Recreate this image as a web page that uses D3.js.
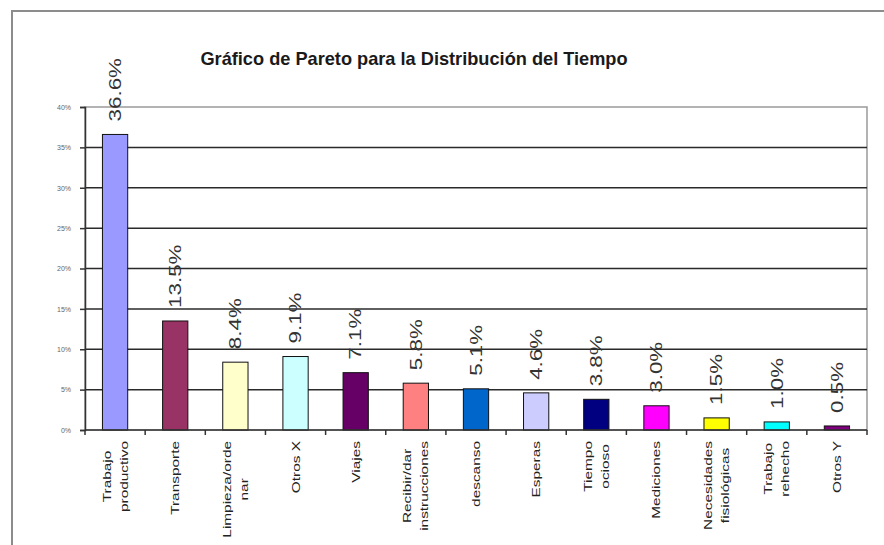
<!DOCTYPE html>
<html>
<head>
<meta charset="utf-8">
<script src="https://cdn.jsdelivr.net/npm/d3@7"></script>
<style>
  html, body { margin: 0; padding: 0; background: #fff; }
  svg { display: block; font-family: "Liberation Sans", Arial, sans-serif; }
</style>
</head>
<body>
<svg id="chart" width="884" height="545"></svg>
<script>
// Time distribution categories (line breaks as shown under the axis)
const categories = [
  "Trabajo\nproductivo", "Transporte", "Limpieza/orde\nnar", "Otros X", "Viajes",
  "Recibir/dar\ninstrucciones", "descanso", "Esperas", "Tiempo\nocioso",
  "Mediciones", "Necesidades\nfisiológicas", "Trabajo\nrehecho", "Otros Y"
];
// Share of time per category, in percent
const values = [36.6, 13.5, 8.4, 9.1, 7.1, 5.8, 5.1, 4.6, 3.8, 3.0, 1.5, 1.0, 0.5];
// Bar fills, one per category
const colors = [
  "#9999FF", "#993366", "#FFFFCC", "#CCFFFF", "#660066", "#FF8080", "#0066CC",
  "#CCCCFF", "#000080", "#FF00FF", "#FFFF00", "#00FFFF", "#800080"
];
// Y axis ticks (percent)
const yTicks = [0, 5, 10, 15, 20, 25, 30, 35, 40];
const title = "Gráfico de Pareto para la Distribución del Tiempo";

const svg = d3.select("#chart");
const plot = { left: 85, right: 867, top: 107, bottom: 430 };
const stretch = 1.4; // elongation of rotated labels along their reading direction

// Outer chart frame
svg.append("path")
  .attr("d", "M12,545 L12,11 L884,11")
  .attr("fill", "none")
  .attr("stroke", "#8c8c8c")
  .attr("stroke-width", 2);

// Title
svg.append("text")
  .attr("x", 414).attr("y", 65)
  .attr("text-anchor", "middle")
  .attr("font-size", 18.2)
  .attr("font-weight", "bold")
  .attr("fill", "#1a1a1a")
  .text(title);

const x = d3.scaleBand()
  .domain(d3.range(categories.length))
  .range([plot.left, plot.right])
  .paddingInner(0.58)
  .paddingOuter(0.29);

const band = d3.scaleBand()
  .domain(d3.range(categories.length))
  .range([plot.left, plot.right]);

const y = d3.scaleLinear().domain([0, 40]).range([plot.bottom, plot.top]);

// Plot area border
svg.append("rect")
  .attr("x", plot.left).attr("y", plot.top)
  .attr("width", plot.right - plot.left)
  .attr("height", plot.bottom - plot.top)
  .attr("fill", "#fff")
  .attr("stroke", "#9a9a9a")
  .attr("stroke-width", 1.5);

// Horizontal gridlines
svg.append("g")
  .selectAll("line")
  .data(yTicks.filter(t => t > 0 && t < 40))
  .join("line")
  .attr("x1", plot.left).attr("x2", plot.right)
  .attr("y1", d => y(d)).attr("y2", d => y(d))
  .attr("stroke", "#2a2a2a")
  .attr("stroke-width", 1.5);

// Y axis
const yAxis = svg.append("g")
  .attr("transform", `translate(${plot.left},0)`)
  .call(d3.axisLeft(y).tickValues(yTicks).tickFormat(d => d + "%").tickSize(5).tickPadding(9));
yAxis.select(".domain").attr("stroke", "#333").attr("stroke-width", 1.5);
yAxis.selectAll(".tick line").attr("stroke", "#333").attr("stroke-width", 1.5);
yAxis.selectAll(".tick text")
  .attr("font-size", 7)
  .attr("fill", "#666")
  .attr("font-family", "Liberation Sans, Arial, sans-serif");

// Bars
svg.append("g")
  .selectAll("rect")
  .data(values)
  .join("rect")
  .attr("x", (d, i) => x(i))
  .attr("y", d => y(d))
  .attr("width", x.bandwidth())
  .attr("height", d => y(0) - y(d))
  .attr("fill", (d, i) => colors[i])
  .attr("stroke", "#111")
  .attr("stroke-width", 1);

// X axis line with ticks between categories
const xAxis = svg.append("g").attr("transform", `translate(0,${plot.bottom})`);
xAxis.append("line")
  .attr("x1", plot.left).attr("x2", plot.right)
  .attr("stroke", "#333").attr("stroke-width", 1.5);
xAxis.selectAll("line.tick")
  .data(d3.range(categories.length + 1))
  .join("line")
  .attr("class", "tick")
  .attr("x1", i => plot.left + i * band.step())
  .attr("x2", i => plot.left + i * band.step())
  .attr("y1", 0).attr("y2", 5)
  .attr("stroke", "#333").attr("stroke-width", 1.5);

// Value labels above bars
svg.append("g")
  .selectAll("text")
  .data(values)
  .join("text")
  .attr("transform", (d, i) =>
    `translate(${x(i) + x.bandwidth() / 2},${y(d) - 13}) rotate(-90) scale(${stretch},1)`)
  .attr("dy", "0.36em")
  .attr("font-size", 16)
  .attr("fill", "#333")
  .text(d => d.toFixed(1) + "%");

// Category labels, rotated, block aligned to the axis, lines centred in block
const catFont = 11, lineGap = 17;
categories.forEach((c, i) => {
  const lines = c.split("\n");
  const cx = band(i) + band.bandwidth() / 2;
  const g = svg.append("g")
    .attr("transform", `translate(${cx},441) rotate(-90) scale(${stretch},1)`);
  const texts = lines.map((ln, k) => g.append("text")
    .attr("font-size", catFont)
    .attr("fill", "#222")
    .attr("text-anchor", "middle")
    .attr("y", (k - (lines.length - 1) / 2) * lineGap)
    .attr("dy", "0.36em")
    .text(ln));
  const maxLen = d3.max(texts, t => t.node().getComputedTextLength());
  texts.forEach(t => t.attr("x", -maxLen / 2));
});
</script>
</body>
</html>
